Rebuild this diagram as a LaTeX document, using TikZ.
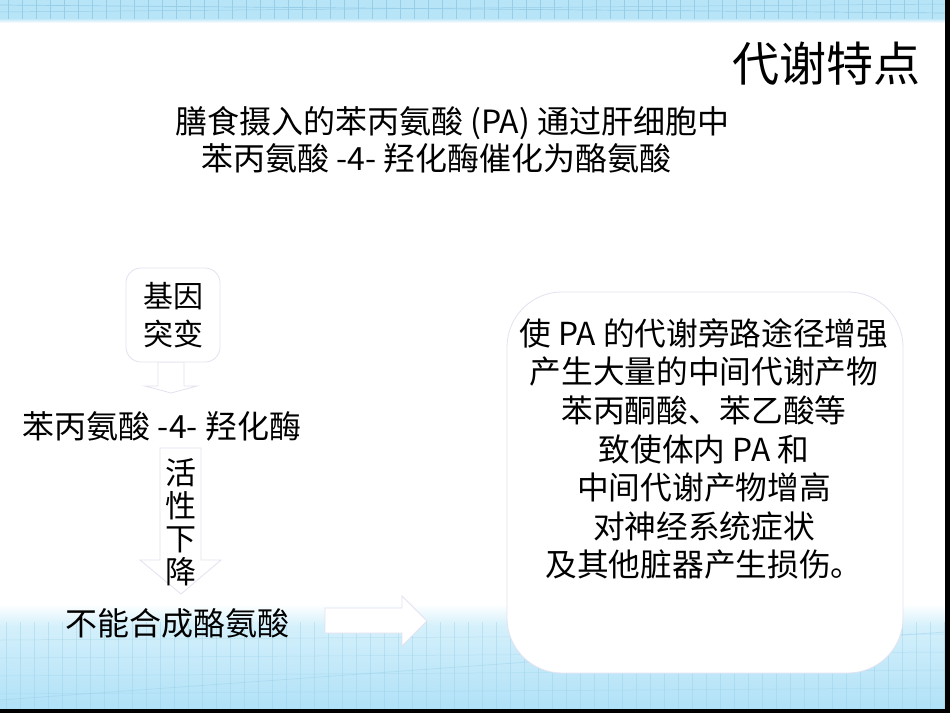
\documentclass[tikz,border=0pt]{standalone}
\usepackage{fontspec}
\setmainfont{Noto Sans CJK SC}
\definecolor{bandblue}{RGB}{184,228,247}
\definecolor{bandline}{RGB}{150,206,232}
\definecolor{bandlight}{RGB}{212,240,251}
\definecolor{bandbot}{RGB}{176,225,247}
\definecolor{faint}{RGB}{226,226,240}
\tikzset{
  shapeline/.style={draw=faint, line width=0.8pt, fill=white},
  txt/.style={inner sep=0pt, text=black},
  gridline/.style={draw=bandline, line width=0.5pt},
}
\begin{document}
\begin{tikzpicture}[x=1pt,y=-1pt]
\useasboundingbox (0,0) rectangle (950,713);
\fill[white] (0,0) rectangle (950,713);
% top band
\fill[bandblue] (0,0) rectangle (945,19);
\shade[top color=bandblue, bottom color=white] (0,18) rectangle (945,23);
\foreach \x in {8,22,...,945} \draw[gridline] (\x,0) -- (\x,19);
\draw[gridline, line width=0.7pt] (0,5) -- (945,13);
\draw[gridline] (0,12) -- (945,4);
% bottom band
\shade[top color=white, bottom color=bandlight] (0,604) rectangle (945,626);
\shade[top color=bandlight, bottom color=bandbot] (0,626) rectangle (945,709);
\begin{scope}[opacity=0.4]
\foreach \x in {6,20,...,945} \draw[gridline] (\x,622) -- (\x,709);
\foreach \y in {640,658,676,694} \draw[gridline] (0,\y) -- (945,\y-6);
\draw[gridline, line width=0.8pt] (0,700) -- (945,632);
\end{scope}
% black edges
\fill[black] (945,0) rectangle (950,713);
\fill[black] (0,709) rectangle (950,713);
% block arrows
\draw[shapeline] (158,362) -- (184,362) -- (184,386) -- (197,386) -- (171,393) -- (145,386) -- (158,386) -- cycle;
\draw[shapeline] (160,448) -- (201,448) -- (201,560) -- (221,560) -- (181,594) -- (140,560) -- (160,560) -- cycle;
\draw[shapeline] (325,608) -- (402,608) -- (402,596) -- (427,621) -- (402,646) -- (402,633) -- (325,633) -- cycle;
% right box
\node[shapeline, rounded corners=55pt, minimum width=396pt, minimum height=381pt] (effectbox) at (705,482.5) {};
% texts
\node[txt, font=\fontsize{47}{50}\selectfont] (title) at (826,64) {代谢特点};
\node[txt, anchor=west, font=\fontsize{32}{36}\selectfont] (intro1) at (175,123) {膳食摄入的苯丙氨酸 (PA) 通过肝细胞中};
\node[txt, anchor=west, font=\fontsize{32}{36}\selectfont] (intro2) at (201,158) {苯丙氨酸 -4- 羟化酶催化为酪氨酸};
\node[shapeline, rounded corners=15pt, minimum width=94pt, minimum height=94pt, inner sep=0pt, align=center, font=\fontsize{30}{38}\selectfont] (gene) at (173,315) {基因\\突变};
\node[txt, font=\fontsize{32}{34}\selectfont] (enzyme) at (162,426) {苯丙氨酸 -4- 羟化酶};
\node[txt, align=center, font=\fontsize{31}{33}\selectfont] (activity) at (181,522) {活\\性\\下\\降};
\node[txt, font=\fontsize{32}{34}\selectfont] (nosyn) at (177,623) {不能合成酪氨酸};
\node[txt, align=center, font=\fontsize{31.7}{38.6}\selectfont] (effects) at (704,449) {使 PA 的代谢旁路途径增强\\产生大量的中间代谢产物\\苯丙酮酸、苯乙酸等\\致使体内 PA 和\\中间代谢产物增高\\对神经系统症状\\及其他脏器产生损伤。};
\end{tikzpicture}
\end{document}
